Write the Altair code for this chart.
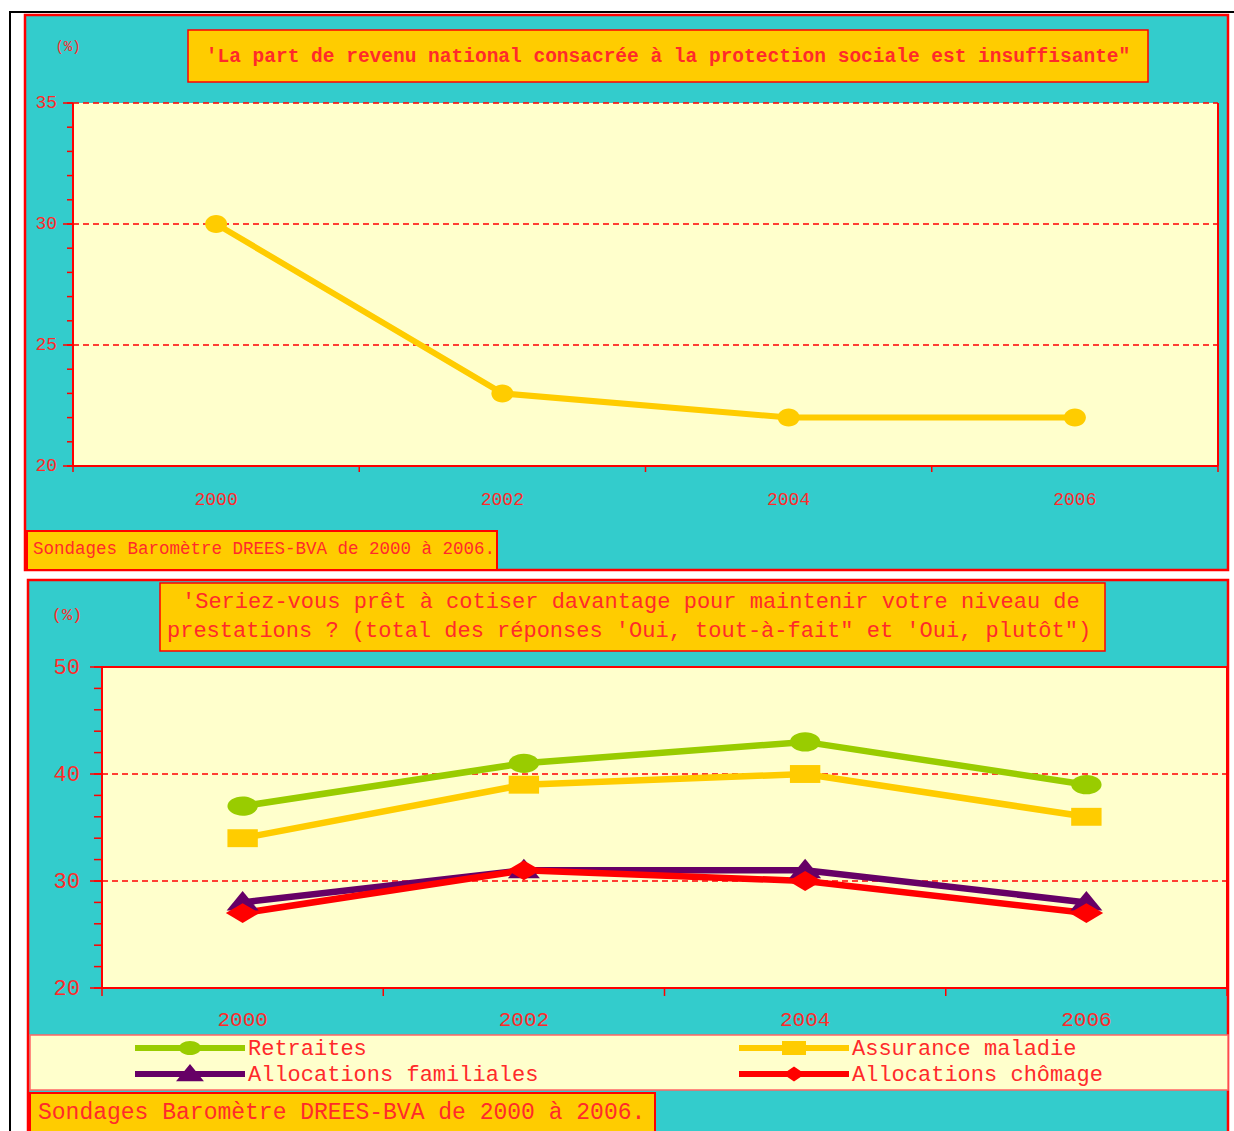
import altair as alt
import pandas as pd

# ---- data -------------------------------------------------------------
YEARS = [2000, 2002, 2004, 2006]

# "La part de revenu national consacrée à la protection sociale est insuffisante" (%)
PART_INSUFFISANTE = [30, 23, 22, 22]

# "Seriez-vous prêt à cotiser davantage ..." (%)
SERIES = ["Retraites", "Assurance maladie", "Allocations familiales", "Allocations chômage"]
RETRAITES = [37, 41, 43, 39]
ASSURANCE_MALADIE = [34, 39, 40, 36]
ALLOC_FAMILIALES = [28, 31, 31, 28]
ALLOC_CHOMAGE = [27, 31, 30, 27]

SERIES_COLORS = ["#99CC00", "#FFCC00", "#660066", "#FF0000"]

X_BOUNDARIES = [1999, 2001, 2003, 2005, 2007]
TOP_Y_TICKS = list(range(20, 36))
TOP_Y_LABELS = [20, 25, 30, 35]
BOTTOM_Y_TICKS = list(range(20, 51, 2))
BOTTOM_Y_LABELS = [20, 30, 40, 50]
TOP_GRID = [25, 30, 35]
BOTTOM_GRID = [30, 40]

TITLE_TOP = "'La part de revenu national consacrée à la protection sociale est insuffisante\""
TITLE_BOTTOM_1 = "'Seriez-vous prêt à cotiser davantage pour maintenir votre niveau de"
TITLE_BOTTOM_2 = "prestations ? (total des réponses 'Oui, tout-à-fait\" et 'Oui, plutôt\")"
SOURCE = "Sondages Baromètre DREES-BVA de 2000 à 2006."
UNIT = "(%)"

# ---- style ------------------------------------------------------------
FONT = "Liberation Mono"
RED = "#FF0000"
TXT = "#FF2A2A"
CYAN = "#33CCCC"
PALE = "#FFFFCC"
ORANGE = "#FFCC00"
BLACK = "#000000"

# flattened marker outlines (unit square -1..1)
TOP_MARKER = "M-1,0A1,0.82 0 0,1 1,0A1,0.82 0 0,1 -1,0Z"
MARKER_PATHS = [
    "M-0.95,0A0.95,0.6 0 0,1 0.95,0A0.95,0.6 0 0,1 -0.95,0Z",
    "M-0.95,-0.56H0.95V0.56H-0.95Z",
    "M0,-0.72L1,0.5H-1Z",
    "M0,-0.62L1.05,0L0,0.62L-1.05,0Z",
]
# legend keys: a line segment with the marker in its middle
KEY_BAR = "M-1,-0.27H9V0.27H-1Z "
LEGEND_KEYS = [
    KEY_BAR + "M3,0A1,0.64 0 0,1 5,0A1,0.64 0 0,1 3,0Z",
    KEY_BAR + "M2.91,-0.64H5.09V0.64H2.91Z",
    KEY_BAR + "M4,-0.9L5.27,0.65H2.73Z",
    KEY_BAR + "M4,-0.68L5,0L4,0.68L3,0Z",
]

# ---- layout (pixels on the page) --------------------------------------
P1_LEFT, P1_RIGHT, P1_TOP, P1_BOTTOM = 73, 1218, 103, 466
P2_LEFT, P2_RIGHT, P2_TOP, P2_BOTTOM = 102, 1227, 667, 988


def one_row():
    return alt.Data(values=[{"k": 0}])


def box(x, x2, y, y2, fill, stroke=None, sw=0):
    kw = {"fill": fill, "strokeWidth": sw}
    if stroke:
        kw["stroke"] = stroke
    return alt.Chart(one_row()).mark_rect(**kw).encode(
        x=alt.value(x), x2=alt.value(x2), y=alt.value(y), y2=alt.value(y2)
    )


def segment(x, x2, y, y2, color, sw):
    return alt.Chart(one_row()).mark_rule(color=color, strokeWidth=sw).encode(
        x=alt.value(x), x2=alt.value(x2), y=alt.value(y), y2=alt.value(y2)
    )


def note(text, x, y, size, align="left", weight="normal"):
    return alt.Chart(alt.Data(values=[{"t": text}])).mark_text(
        align=align, baseline="middle", font=FONT, fontSize=size,
        fontWeight=weight, color=TXT,
    ).encode(x=alt.value(x), y=alt.value(y), text="t:N")


def lin(domain, rng):
    return alt.Scale(domain=domain, range=rng, nice=False, zero=False)


def grid(values, ys, left, right):
    return alt.Chart(pd.DataFrame({"v": values})).mark_rule(
        color=RED, strokeWidth=1.3, strokeDash=[6, 4]
    ).encode(y=alt.Y("v:Q", scale=ys, axis=None), x=alt.value(left), x2=alt.value(right))


def y_ticks(values, ys, axis_x, length):
    return alt.Chart(pd.DataFrame({"v": values})).mark_rule(
        color=RED, strokeWidth=1.5
    ).encode(y=alt.Y("v:Q", scale=ys, axis=None), x=alt.value(axis_x - length), x2=alt.value(axis_x))


def y_labels(values, ys, right_x, size):
    return alt.Chart(pd.DataFrame({"v": values})).mark_text(
        align="right", baseline="middle", font=FONT, fontSize=size, color=TXT
    ).encode(y=alt.Y("v:Q", scale=ys, axis=None), x=alt.value(right_x),
             text=alt.Text("v:Q", format="d"))


def x_ticks(xs, axis_y, length):
    return alt.Chart(pd.DataFrame({"b": X_BOUNDARIES})).mark_rule(
        color=RED, strokeWidth=1.5
    ).encode(x=alt.X("b:Q", scale=xs, axis=None), y=alt.value(axis_y), y2=alt.value(axis_y + length))


def x_labels(xs, y, size):
    return alt.Chart(pd.DataFrame({"annee": YEARS})).mark_text(
        align="center", baseline="middle", font=FONT, fontSize=size, color=TXT
    ).encode(x=alt.X("annee:Q", scale=xs, axis=None), y=alt.value(y),
             text=alt.Text("annee:Q", format="d"))


# ---- top panel --------------------------------------------------------
x1 = lin([1999, 2007], [P1_LEFT, P1_RIGHT])
y1 = lin([20, 35], [P1_BOTTOM, P1_TOP])
top_df = pd.DataFrame({"annee": YEARS, "part": PART_INSUFFISANTE})

top_line = alt.Chart(top_df).mark_line(color=ORANGE, strokeWidth=6).encode(
    x=alt.X("annee:Q", scale=x1, axis=None),
    y=alt.Y("part:Q", scale=y1, axis=None),
)
top_points = alt.Chart(top_df).mark_point(
    filled=True, shape=TOP_MARKER, size=484, color=ORANGE, opacity=1
).encode(x=alt.X("annee:Q", scale=x1, axis=None), y=alt.Y("part:Q", scale=y1, axis=None))

top_layers = [
    segment(9, 1234, 12, 12, BLACK, 2),
    box(25, 1228, 15, 570, CYAN, RED, 2.5),
    box(P1_LEFT, P1_RIGHT, P1_TOP, P1_BOTTOM, PALE),
    grid(TOP_GRID, y1, P1_LEFT, P1_RIGHT),
    segment(P1_RIGHT, P1_RIGHT, P1_TOP, P1_BOTTOM, RED, 2),
    segment(P1_LEFT, P1_LEFT, P1_TOP, P1_BOTTOM, RED, 2),
    segment(P1_LEFT, P1_RIGHT, P1_BOTTOM, P1_BOTTOM, RED, 2),
    y_ticks(TOP_Y_TICKS, y1, P1_LEFT, 6),
    y_ticks(TOP_Y_LABELS, y1, P1_LEFT, 10),
    y_labels(TOP_Y_LABELS, y1, 57, 18),
    x_ticks(x1, P1_BOTTOM, 6),
    x_labels(x1, 500, 18),
    top_line,
    top_points,
    box(188, 1148, 30, 82, ORANGE, RED, 1.5),
    note(TITLE_TOP, 668, 56, 19.5, align="center", weight="bold"),
    note(UNIT, 68, 47, 14, align="center"),
    box(27, 497, 531, 570, ORANGE, RED, 2),
    note(SOURCE, 33, 549, 17.5),
]

# ---- bottom panel -----------------------------------------------------
x2 = lin([1999, 2007], [P2_LEFT, P2_RIGHT])
y2 = lin([20, 50], [P2_BOTTOM, P2_TOP])

rows = []
for name, vals in zip(SERIES, [RETRAITES, ASSURANCE_MALADIE, ALLOC_FAMILIALES, ALLOC_CHOMAGE]):
    for yr, v in zip(YEARS, vals):
        rows.append({"serie": name, "annee": yr, "valeur": v})
bottom_df = pd.DataFrame(rows)


def series_color(legend=None):
    return alt.Color("serie:N", scale=alt.Scale(domain=SERIES, range=SERIES_COLORS), legend=legend)


bottom_lines = alt.Chart(bottom_df).mark_line(strokeWidth=6.5).encode(
    x=alt.X("annee:Q", scale=x2, axis=None),
    y=alt.Y("valeur:Q", scale=y2, axis=None),
    color=series_color(),
    detail="serie:N",
)
bottom_points = alt.Chart(bottom_df).mark_point(filled=True, opacity=1, size=1024).encode(
    x=alt.X("annee:Q", scale=x2, axis=None),
    y=alt.Y("valeur:Q", scale=y2, axis=None),
    color=series_color(),
    shape=alt.Shape("serie:N", scale=alt.Scale(domain=SERIES, range=MARKER_PATHS), legend=None),
)

legend_spec = alt.Legend(
    title=None, orient="none", legendX=135, legendY=1037, columns=2,
    direction="horizontal", columnPadding=200, rowPadding=4, symbolSize=484,
    symbolStrokeWidth=0, symbolOpacity=1, labelFont=FONT, labelFontSize=22,
    labelColor=TXT, labelOffset=91, labelLimit=600, padding=0,
)
legend_keys = alt.Chart(bottom_df).transform_filter("false").mark_point(
    filled=True, opacity=1
).encode(
    color=series_color(legend_spec),
    shape=alt.Shape("serie:N", scale=alt.Scale(domain=SERIES, range=LEGEND_KEYS), legend=legend_spec),
)

bottom_layers = [
    segment(10, 10, 12, 1131, BLACK, 2),
    box(28, 1228, 580, 1145, CYAN, RED, 2.5),
    box(P2_LEFT, P2_RIGHT, P2_TOP, P2_BOTTOM, PALE, RED, 2),
    grid(BOTTOM_GRID, y2, P2_LEFT, P2_RIGHT),
    y_ticks(BOTTOM_Y_TICKS, y2, P2_LEFT, 8),
    y_ticks(BOTTOM_Y_LABELS, y2, P2_LEFT, 12),
    y_labels(BOTTOM_Y_LABELS, y2, 80, 22),
    x_ticks(x2, P2_BOTTOM, 8),
    x_labels(x2, 1020, 21),
    bottom_lines,
    bottom_points,
    box(160, 1105, 583, 651, ORANGE, RED, 1.5),
    note(TITLE_BOTTOM_1, 182, 601, 22),
    note(TITLE_BOTTOM_2, 167, 630, 22),
    note(UNIT, 67, 615, 17, align="center"),
    box(30, 1228, 1035, 1090, PALE, "#FF6666", 1.5),
    legend_keys,
    box(30, 655, 1093, 1145, ORANGE, RED, 2),
    note(SOURCE, 38, 1112, 23),
]

chart = alt.layer(*top_layers, *bottom_layers).resolve_scale(
    x="independent", y="independent", color="independent", shape="independent",
).properties(
    width=1234, height=1131, padding=0, background="white",
    autosize=alt.AutoSizeParams(type="none"),
).configure_view(strokeWidth=0)

chart.save("out.html", embed_options={"renderer": "svg", "actions": False})
